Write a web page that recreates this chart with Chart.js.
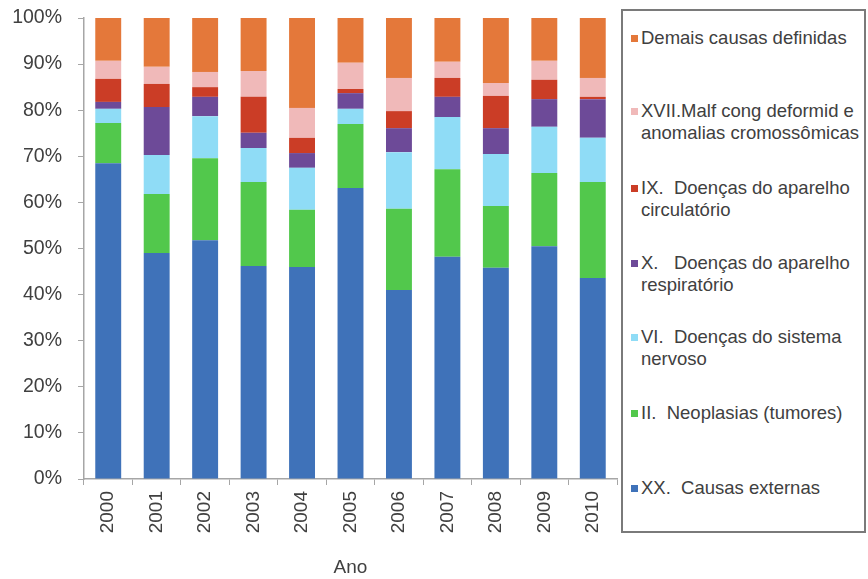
<!DOCTYPE html>
<html>
<head>
<meta charset="utf-8">
<script src="https://cdn.jsdelivr.net/npm/chart.js@4/dist/chart.umd.min.js"></script>
<style>
  body { margin: 0; background: #fff; }
  #wrap { position: relative; width: 868px; height: 579px; }
  #legend {
    position: absolute; left: 621px; top: 9px; width: 241px; height: 520px;
    border: 2px solid #7a7a7a; background: #fff;
    font-family: "Liberation Sans", Arial, sans-serif; font-size: 18.5px; color: #404040;
  }
  .item { position: absolute; left: 8px; line-height: 22px; white-space: pre; }
  .item .box { position: absolute; left: 0; top: 8px; width: 7px; height: 7px; }
  .item .txt { margin-left: 10px; }
</style>
</head>
<body>
<div id="wrap">
  <canvas id="chart" width="868" height="579"></canvas>
  <div id="legend"></div>
</div>
<script>
const years = ["2000", "2001", "2002", "2003", "2004", "2005", "2006", "2007", "2008", "2009", "2010"];

// percentages per year, bottom of the stack first
const causasExternas = [68.5, 49.0, 51.8, 46.2, 46.0, 63.1, 41.0, 48.2, 45.8, 50.5, 43.6];
const neoplasias     = [8.7, 12.8, 17.8, 18.2, 12.4, 13.9, 17.6, 19.0, 13.4, 15.9, 20.8];
const sistemaNervoso = [3.1, 8.5, 9.1, 7.4, 9.1, 3.3, 12.3, 11.3, 11.3, 10.0, 9.6];
const respiratorio   = [1.5, 10.4, 4.2, 3.3, 3.2, 3.4, 5.2, 4.4, 5.6, 6.0, 8.4];
const circulatorio   = [5.0, 5.0, 2.1, 7.8, 3.3, 0.9, 3.7, 4.1, 7.0, 4.2, 0.5];
const malformacoes   = [3.9, 3.7, 3.3, 5.6, 6.5, 5.7, 7.2, 3.5, 2.8, 4.1, 4.1];
const demaisCausas   = [9.3, 10.6, 11.7, 11.5, 19.5, 9.7, 13.0, 9.5, 14.1, 9.3, 13.0];

const yTicks = [0, 10, 20, 30, 40, 50, 60, 70, 80, 90, 100];

const series = [
  { label: ["XX.  Causas externas"], data: causasExternas, color: "#3f72b9" },
  { label: ["II.  Neoplasias (tumores)"], data: neoplasias, color: "#52c84c" },
  { label: ["VI.  Doenças do sistema", "nervoso"], data: sistemaNervoso, color: "#8fdcf6" },
  { label: ["X.   Doenças do aparelho", "respiratório"], data: respiratorio, color: "#6d4a98" },
  { label: ["IX.  Doenças do aparelho", "circulatório"], data: circulatorio, color: "#cb3d26" },
  { label: ["XVII.Malf cong deformid e", "anomalias cromossômicas"], data: malformacoes, color: "#f0b9b9" },
  { label: ["Demais causas definidas"], data: demaisCausas, color: "#e4783a" }
];

// legend rows from the top, first-line top inside the box
const legendTops = [16, 89, 166, 241, 315, 391, 466];

const font = "'Liberation Sans', Arial, sans-serif";

const ctx = document.getElementById("chart").getContext("2d");
new Chart(ctx, {
  type: "bar",
  data: {
    labels: years,
    datasets: series.map(s => ({
      label: s.label.join(" "),
      data: s.data,
      backgroundColor: s.color,
      borderWidth: 0,
      barPercentage: 0.535,
      categoryPercentage: 1
    }))
  },
  options: {
    responsive: false,
    animation: false,
    layout: { padding: { top: 18, right: 251, left: 0, bottom: 0 } },
    plugins: { legend: { display: false }, tooltip: { enabled: false } },
    scales: {
      x: {
        stacked: true,
        border: { color: "#a6a6a6", width: 1.5 },
        grid: { drawOnChartArea: false, color: "#a6a6a6", tickLength: 6, offset: true },
        ticks: { color: "#404040", font: { family: font, size: 19 }, minRotation: 90, maxRotation: 90, padding: 6 },
        title: { display: true, text: "Ano", color: "#404040", font: { family: font, size: 19 }, padding: { top: 0, bottom: 0 } },
        afterFit: scale => {
          scale.height = 100;
          scale.paddingLeft = 0;
          scale.paddingRight = 0;
        }
      },
      y: {
        stacked: true,
        min: 0,
        max: 100,
        border: { color: "#a6a6a6", width: 1.5 },
        grid: { drawOnChartArea: false, color: "#a6a6a6", tickLength: 6 },
        afterBuildTicks: scale => { scale.ticks = yTicks.map(v => ({ value: v })); },
        ticks: { color: "#404040", font: { family: font, size: 19.5 }, padding: 16, callback: v => v + "%" },
        afterFit: scale => {
          scale.width = 84;
          scale.paddingTop = 0;
          scale.paddingBottom = 0;
        }
      }
    }
  }
});

// legend, top entry is the top of the stack
const legend = document.getElementById("legend");
series.slice().reverse().forEach((s, i) => {
  const item = document.createElement("div");
  item.className = "item";
  item.style.top = legendTops[i] + "px";
  const box = document.createElement("span");
  box.className = "box";
  box.style.background = s.color;
  const txt = document.createElement("div");
  txt.className = "txt";
  txt.textContent = s.label.join("\n");
  item.appendChild(box);
  item.appendChild(txt);
  legend.appendChild(item);
});
</script>
</body>
</html>
